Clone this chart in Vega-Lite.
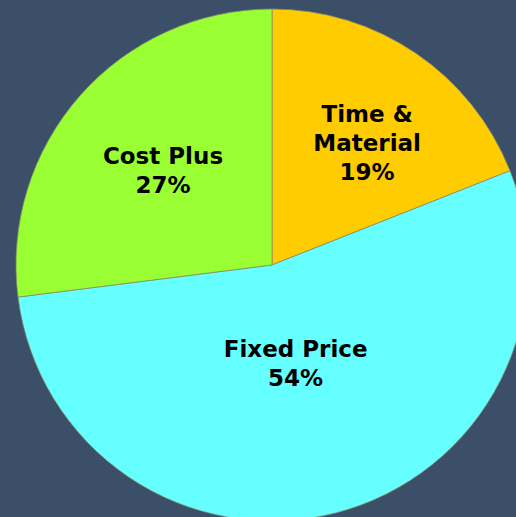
{
  "$schema": "https://vega.github.io/schema/vega-lite/v6.json",
  "width": 544,
  "height": 530,
  "autosize": "none",
  "padding": 0,
  "background": "#3B5068",
  "view": {"stroke": null},
  "data": {
    "values": [
      {"category": "Time & Material", "label": "Time &\nMaterial", "share": 19},
      {"category": "Fixed Price", "label": "Fixed Price", "share": 54},
      {"category": "Cost Plus", "label": "Cost Plus", "share": 27}
    ]
  },
  "transform": [
    {"calculate": "datum.label + '\\n' + datum.share + '%'", "as": "text"}
  ],
  "encoding": {
    "theta": {"field": "share", "type": "quantitative", "stack": true},
    "order": {"field": "category", "sort": "descending"}
  },
  "layer": [
    {
      "mark": {"type": "arc", "outerRadius": 256, "stroke": "#8a8a66", "strokeWidth": 0.75},
      "encoding": {
        "color": {
          "field": "category",
          "type": "nominal",
          "scale": {
            "domain": ["Time & Material", "Fixed Price", "Cost Plus"],
            "range": ["#FFCC00", "#66FFFF", "#99FF33"]
          },
          "legend": null
        }
      }
    },
    {
      "mark": {
        "type": "text",
        "radius": {"expr": "datum.category === 'Time & Material' ? 155 : datum.category === 'Fixed Price' ? 107 : 140"},
        "dx": {"expr": "datum.category === 'Time & Material' ? 8 : datum.category === 'Fixed Price' ? -3 : -4"},
        "dy": {"expr": "datum.category === 'Time & Material' ? -22 : datum.category === 'Fixed Price' ? -19 : -15"},
        "font": "DejaVu Sans",
        "fontWeight": "bold",
        "fontSize": 23,
        "lineHeight": 29,
        "lineBreak": "\n",
        "align": "center",
        "baseline": "middle",
        "color": "#000000"
      },
      "encoding": {
        "text": {"field": "text", "type": "nominal"}
      }
    }
  ]
}
